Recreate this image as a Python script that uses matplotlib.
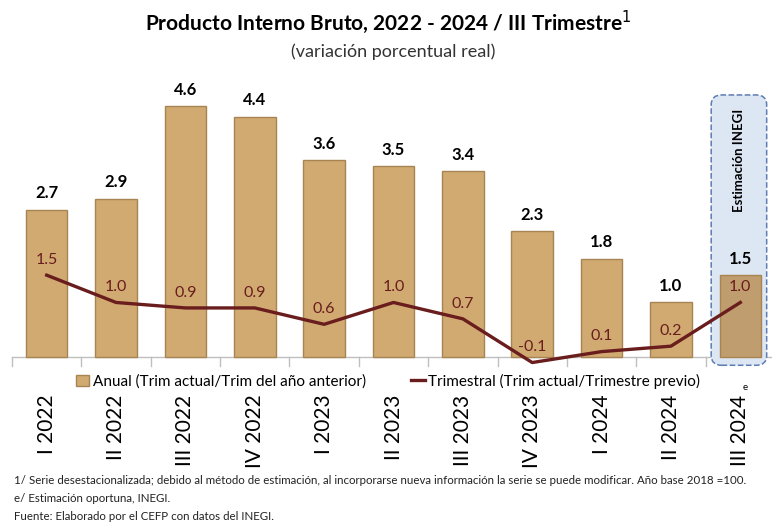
import matplotlib
matplotlib.use('Agg')
import matplotlib.pyplot as plt
import numpy as np
from matplotlib.patches import FancyBboxPatch
from matplotlib.lines import Line2D
from matplotlib.patches import Patch

categories = ['I 2022', 'II 2022', 'III 2022', 'IV 2022', 'I 2023', 'II 2023',
              'III 2023', 'IV 2023', 'I 2024', 'II 2024', 'III 2024']
anual = [2.7, 2.9, 4.6, 4.4, 3.6, 3.5, 3.4, 2.3, 1.8, 1.0, 1.5]
trimestral = [1.5, 1.0, 0.9, 0.9, 0.6, 1.0, 0.7, -0.1, 0.1, 0.2, 1.0]

title = 'Producto Interno Bruto, 2022 - 2024 / III Trimestre$^{1}$'
subtitle = '(variación porcentual real)'
notes = ['1/ Serie desestacionalizada; debido al método de estimación, al incorporarse nueva información la serie se puede modificar. Año base 2018 =100.',
         'e/ Estimación oportuna, INEGI.',
         'Fuente: Elaborado por el CEFP con datos del INEGI.']

bar_color = '#D1AA72'
est_color = '#C09D6E'
line_color = '#6A1D1D'
plt.rcParams['font.family'] = ['Lato', 'DejaVu Sans']

fig = plt.figure(figsize=(7.72, 5.23), dpi=100)
ax = fig.add_axes([12 / 772, 155 / 523, 763 / 772, 278.5 / 523])

x = np.arange(len(categories))
colors = [bar_color] * (len(categories) - 1) + [est_color]
bars = ax.bar(x, anual, width=0.6, color=colors, edgecolor='#A88452', linewidth=1.0, zorder=2)
ax.plot(x, trimestral, color=line_color, linewidth=2.4, zorder=4)

for xi, v in zip(x, anual):
    ax.annotate('{:.1f}'.format(v), xy=(xi, v), xytext=(0, 6), textcoords='offset points',
                ha='center', va='bottom', fontsize=12, fontweight='bold', color='black', zorder=5)
for xi, v in zip(x, trimestral):
    ax.annotate('{:.1f}'.format(v), xy=(xi, v), xytext=(0, 6), textcoords='offset points',
                ha='center', va='bottom', fontsize=11.5, color=line_color, zorder=5)

# estimation box behind the last bar
box = FancyBboxPatch((9.58, -0.15), 0.8, 4.95, boxstyle='round,pad=0,rounding_size=0.15',
                     mutation_aspect=1.2, facecolor='#DDE6F3',
                     edgecolor='#5D7DB3', linestyle='--', linewidth=1.1, zorder=1.5)
ax.add_patch(box)
ax.text(9.98, 2.65, 'Estimación INEGI', rotation=90, ha='center', va='bottom',
        fontsize=9.5, fontweight='bold', zorder=5)

ax.set_xlim(-0.5, 10.5)
ax.set_ylim(-0.2, 4.9)
ax.axhline(0, color='#BFBFBF', linewidth=1, zorder=1)
for s in ax.spines.values():
    s.set_visible(False)
ax.set_yticks([])
ax.set_xticks(x)
ax.set_xticklabels(categories, rotation=90, fontsize=15)
ax.tick_params(axis='x', length=0, pad=19)
for b in np.arange(-0.5, 11, 1):
    ax.plot([b, b], [0, -0.17], color='#BFBFBF', linewidth=1, clip_on=False, zorder=1)

fig.text(745 / 772, 1 - 388 / 523, 'e', fontsize=7, ha='center', va='center')

handles = [Patch(facecolor=bar_color, edgecolor='#A88452'),
           Line2D([0], [0], color=line_color, linewidth=2.4)]
fig.legend(handles, ['Anual (Trim actual/Trim del año anterior)', 'Trimestral (Trim actual/Trimestre previo)'],
           loc='center', bbox_to_anchor=(388 / 772, 1 - 381 / 523), ncol=2, frameon=False,
           fontsize=11, handlelength=0.9, handletextpad=0.2, columnspacing=3.0)

fig.text(388 / 772, 1 - 22 / 523, title, ha='center', va='center', fontsize=15, fontweight='bold')
fig.text(393 / 772, 1 - 52 / 523, subtitle, ha='center', va='center', fontsize=13, color='#333333')
for i, n in enumerate(notes):
    fig.text(14 / 772, 1 - (481 + i * 17.5) / 523, n, ha='left', va='center', fontsize=8.3, color='#222222')

fig.savefig('out.png', dpi=100)
